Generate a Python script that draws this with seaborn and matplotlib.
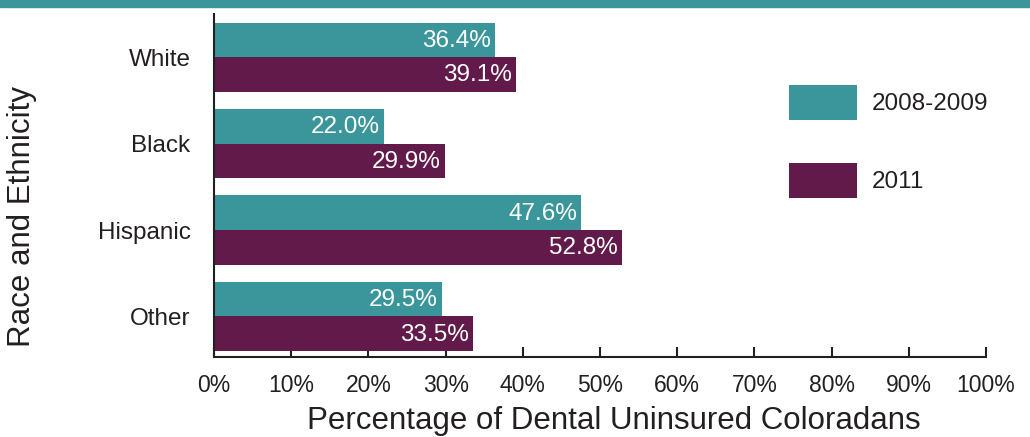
import pandas as pd
import seaborn as sns
import matplotlib.pyplot as plt
from matplotlib.patches import Rectangle

groups = ['White', 'Black', 'Hispanic', 'Other']
years = ['2008-2009', '2011']
pct_0809 = [36.4, 22.0, 47.6, 29.5]
pct_2011 = [39.1, 29.9, 52.8, 33.5]
ticks = [0, 10, 20, 30, 40, 50, 60, 70, 80, 90, 100]

teal = '#3a969b'
plum = '#621a4b'
ink = '#231f20'

data = pd.DataFrame({
    'group': groups * 2,
    'year': [years[0]] * 4 + [years[1]] * 4,
    'pct': pct_0809 + pct_2011,
})

sns.set_style('white')
plt.rcParams['font.family'] = ['Liberation Sans', 'DejaVu Sans']

fig = plt.figure(figsize=(10.3, 4.37), dpi=100)
ax = fig.add_axes([0.2078, 0.183, 0.7495, 0.785])

sns.barplot(data=data, y='group', x='pct', hue='year', orient='h',
            palette=[teal, plum], width=0.8, ax=ax,
            edgecolor='none', linewidth=0, saturation=1)

for cont in ax.containers:
    for bar in cont:
        w = bar.get_width()
        ax.text(w - 0.5, bar.get_y() + bar.get_height() / 2 + 0.01, f'{w:.1f}%',
                ha='right', va='center', color='white', fontsize=17.5)

ax.set_xlim(0, 100)
ax.set_ylim(3.47, -0.5)
ax.set_xticks(ticks)
ax.set_xticklabels([f'{t}%' for t in ticks])
ax.tick_params(axis='x', bottom=True, direction='in', length=7, width=1.5, color=ink,
               labelsize=16.5, labelcolor=ink, pad=12.5)
ax.tick_params(axis='y', length=0, labelsize=17.5, labelcolor=ink, pad=17)

for s in ['top', 'right']:
    ax.spines[s].set_visible(False)
for s in ['left', 'bottom']:
    ax.spines[s].set_color(ink)
    ax.spines[s].set_linewidth(1.5)

ax.set_xlabel('Percentage of Dental Uninsured Coloradans', fontsize=22.5,
              color=ink, labelpad=6)
ax.xaxis.label.set_x(0.518)
ax.set_ylabel('Race and Ethnicity', fontsize=22.5, color=ink)
ax.yaxis.set_label_coords(-0.229, 0.41)

leg = ax.legend(loc='upper left', bbox_to_anchor=(0.745, 0.793), frameon=False,
                fontsize=17.5, handlelength=2.8, handleheight=1.84,
                labelspacing=1.77, handletextpad=0.6, borderpad=0,
                borderaxespad=0, title=None)
for h in leg.legend_handles:
    h.set_edgecolor('none')
for t in leg.get_texts():
    t.set_color(ink)

fig.patches.append(Rectangle((0, 1 - 7 / 437), 1, 7 / 437, transform=fig.transFigure,
                             color=teal, zorder=0))

fig.savefig('out.png', dpi=100)
